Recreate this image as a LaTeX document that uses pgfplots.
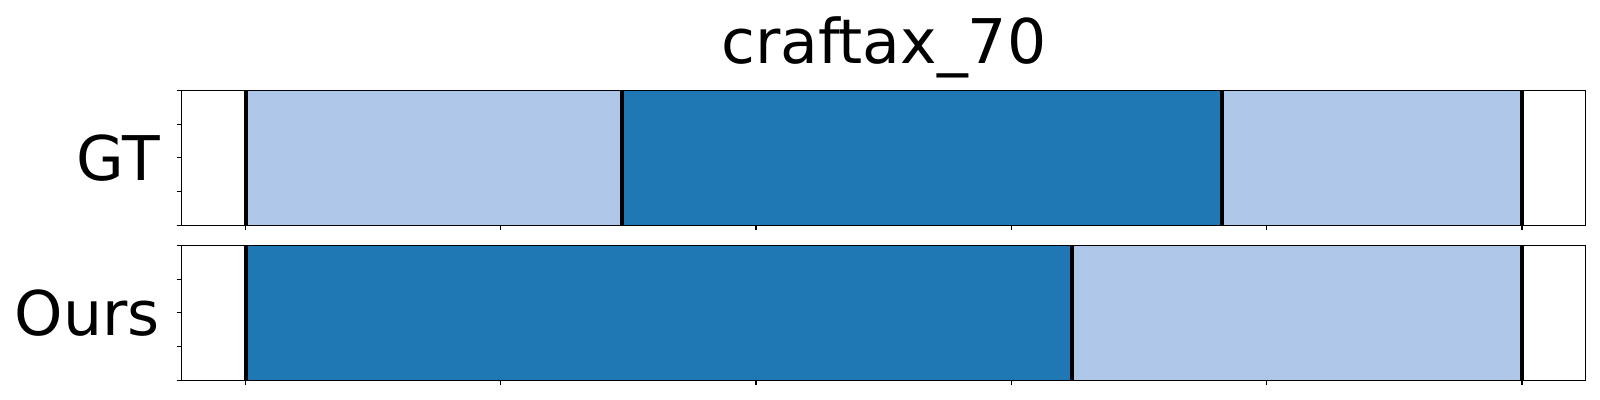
\documentclass[border=0pt]{standalone}
\usepackage{pgfplots}
\pgfplotsset{compat=1.18}
\usepackage{fontspec}
\setmainfont{DejaVu Sans}
\definecolor{dark}{HTML}{1F77B4}
\definecolor{light}{HTML}{AEC7E8}
\pgfplotsset{
  seg/.style={scale only axis, width=702pt, height=67.4pt,
    xmin=-12.5, xmax=262.5, ymin=0, ymax=1,
    xtick={0,50,...,250}, xticklabels={},
    ytick={0,0.25,0.5,0.75,1}, yticklabels={},
    xtick pos=bottom, ytick pos=left,
    tick align=outside, major tick length=2.5pt,
    axis line style={line width=0.75pt},
    every tick/.style={black, line width=0.6pt},
    ylabel style={at={(axis description cs:0,0.5)}, rotate=-90, anchor=east, xshift=-7.5pt,
      font=\fontsize{30.8}{36}\selectfont},
    axis on top},
  bnd/.style={black, line width=2pt, forget plot},
}
\begin{document}
\begin{tikzpicture}
\useasboundingbox (0,0) rectangle (800pt,200pt);
\begin{axis}[seg, at={(90.85pt,87.35pt)}, anchor=south west, ylabel={GT},
  title={craftax\_70}, title style={font=\fontsize{30.8}{36}\selectfont, yshift=-3.3pt}]
\addplot[fill=light, draw=none] coordinates {(0,0) (0,1) (73.7,1) (73.7,0)} \closedcycle;
\addplot[fill=dark, draw=none] coordinates {(73.7,0) (73.7,1) (191.2,1) (191.2,0)} \closedcycle;
\addplot[fill=light, draw=none] coordinates {(191.2,0) (191.2,1) (250,1) (250,0)} \closedcycle;
\addplot[bnd] coordinates {(0,0) (0,1)};
\addplot[bnd] coordinates {(73.7,0) (73.7,1)};
\addplot[bnd] coordinates {(191.2,0) (191.2,1)};
\addplot[bnd] coordinates {(250,0) (250,1)};
\end{axis}
\begin{axis}[seg, at={(90.85pt,9.85pt)}, anchor=south west, ylabel={Ours}]
\addplot[fill=dark, draw=none] coordinates {(0,0) (0,1) (161.8,1) (161.8,0)} \closedcycle;
\addplot[fill=light, draw=none] coordinates {(161.8,0) (161.8,1) (250,1) (250,0)} \closedcycle;
\addplot[bnd] coordinates {(0,0) (0,1)};
\addplot[bnd] coordinates {(161.8,0) (161.8,1)};
\addplot[bnd] coordinates {(250,0) (250,1)};
\end{axis}
\end{tikzpicture}
\end{document}
